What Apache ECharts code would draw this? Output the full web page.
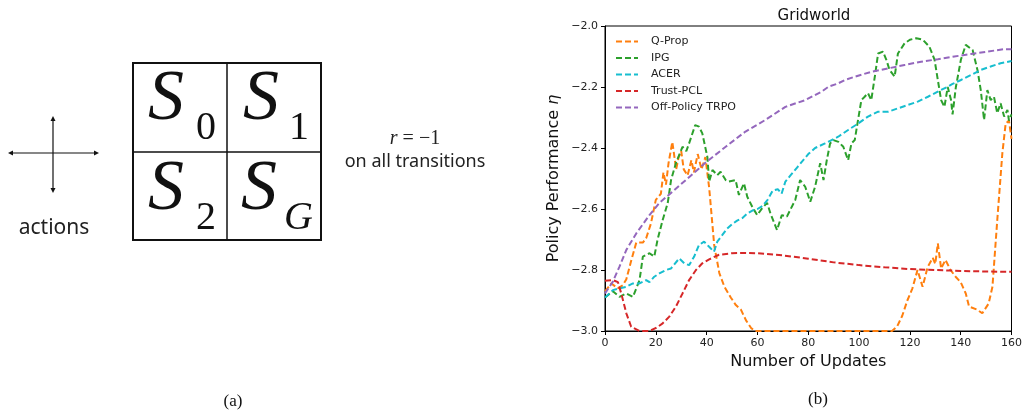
<!DOCTYPE html>
<html>
<head>
<meta charset="utf-8">
<script src="https://cdn.jsdelivr.net/npm/echarts@6/dist/echarts.min.js"></script>
<style>
  html, body { margin: 0; padding: 0; background: #fff; }
  #chart { width: 1025px; height: 415px; }
</style>
</head>
<body>
<div id="chart"></div>
<script>
// series names and colours (matplotlib tab10)
const seriesNames = ['Q-Prop', 'IPG', 'ACER', 'Trust-PCL', 'Off-Policy TRPO'];
const seriesColors = ['#ff7f0e', '#2ca02c', '#17becf', '#d62728', '#9467bd'];

// [update, performance]
const qprop = [[0,-2.87],[2.5,-2.844],[5,-2.86],[7,-2.85],[8.4,-2.83],[10.3,-2.77],[12.3,-2.71],[14.9,-2.71],[16.2,-2.696],[18.1,-2.647],[20,-2.57],[22,-2.55],[23,-2.48],[24,-2.52],[25,-2.45],[26.5,-2.38],[28,-2.47],[29,-2.43],[30,-2.41],[31,-2.47],[32.5,-2.49],[34,-2.44],[35,-2.48],[36.5,-2.42],[38,-2.47],[39.5,-2.43],[41,-2.53],[43,-2.72],[45,-2.81],[47,-2.855],[49.5,-2.89],[51.5,-2.915],[53.5,-2.93],[55.5,-2.965],[57.5,-2.99],[59,-3.0],[113,-3.0],[115,-2.985],[117,-2.95],[119,-2.9],[121,-2.86],[123,-2.8],[125,-2.855],[127,-2.79],[129,-2.76],[130,-2.78],[131,-2.713],[132.3,-2.795],[134,-2.767],[136,-2.8],[138,-2.822],[140,-2.84],[142,-2.877],[143.3,-2.92],[146.5,-2.93],[148.5,-2.942],[151,-2.91],[152.5,-2.855],[154.4,-2.636],[156.4,-2.417],[157.7,-2.32],[159,-2.31],[160,-2.37]];
const ipg = [[0,-2.89],[3.1,-2.87],[5.7,-2.888],[8.4,-2.877],[11,-2.888],[13.6,-2.833],[14.9,-2.756],[17.5,-2.745],[19.4,-2.756],[20.7,-2.7],[22.7,-2.636],[24.7,-2.58],[26,-2.505],[27.9,-2.45],[30.5,-2.396],[32,-2.41],[33.1,-2.385],[35.5,-2.325],[37,-2.33],[38.3,-2.352],[40.3,-2.43],[41,-2.51],[42.3,-2.472],[44.2,-2.489],[45.5,-2.478],[47.5,-2.505],[48.8,-2.51],[51.4,-2.505],[52.7,-2.554],[54.7,-2.516],[56,-2.56],[57.9,-2.592],[59.9,-2.62],[61.8,-2.598],[63.8,-2.58],[65.1,-2.614],[67.7,-2.669],[69.6,-2.62],[71.6,-2.625],[72.9,-2.603],[74.9,-2.57],[76.8,-2.505],[78.8,-2.527],[80.8,-2.576],[82.7,-2.527],[84.7,-2.45],[86,-2.505],[87.3,-2.44],[88.6,-2.385],[89.9,-2.374],[91.9,-2.38],[93.8,-2.396],[95.7,-2.44],[97,-2.385],[98.3,-2.374],[99.6,-2.308],[100.9,-2.243],[102.2,-2.232],[103.5,-2.22],[104.8,-2.243],[106.2,-2.166],[107.5,-2.09],[109.4,-2.084],[110.7,-2.11],[112,-2.144],[114,-2.166],[115.3,-2.09],[117.9,-2.057],[120,-2.045],[122.5,-2.04],[125.1,-2.045],[127.7,-2.068],[129.7,-2.11],[131,-2.177],[132.3,-2.243],[133.6,-2.265],[134.9,-2.2],[136.2,-2.243],[136.8,-2.29],[138.1,-2.2],[140.1,-2.11],[142,-2.062],[144.7,-2.079],[146.6,-2.144],[147.9,-2.21],[149.2,-2.308],[150.5,-2.21],[151.8,-2.243],[153.1,-2.232],[154.4,-2.286],[155.7,-2.253],[157.1,-2.297],[158.4,-2.275],[159,-2.31],[160,-2.29]];
const acer = [[0,-2.89],[3.1,-2.866],[5.7,-2.86],[8.4,-2.855],[11,-2.844],[13.6,-2.844],[16.2,-2.833],[17.5,-2.84],[19.4,-2.822],[21.4,-2.811],[24,-2.8],[26,-2.795],[29.2,-2.762],[31.2,-2.778],[33.1,-2.784],[35.1,-2.756],[37,-2.718],[39,-2.707],[41,-2.724],[42.9,-2.74],[44.2,-2.707],[46.2,-2.685],[48,-2.665],[50,-2.65],[52,-2.638],[54,-2.63],[56,-2.615],[58,-2.605],[60,-2.6],[62,-2.59],[64,-2.57],[66,-2.54],[68,-2.535],[69.5,-2.55],[71,-2.51],[73,-2.49],[76,-2.46],[80,-2.42],[82.7,-2.4],[86.6,-2.385],[89.2,-2.374],[91.8,-2.363],[95.7,-2.341],[99.6,-2.32],[103.5,-2.297],[107.5,-2.281],[111.4,-2.281],[115.3,-2.27],[119.2,-2.259],[123.1,-2.248],[127.1,-2.232],[131,-2.215],[134.9,-2.199],[136.8,-2.19],[140.1,-2.177],[144,-2.161],[147.9,-2.144],[151.8,-2.133],[155.7,-2.122],[160,-2.115]];
const trustPcl = [[0,-2.835],[3.1,-2.833],[5.1,-2.84],[6.4,-2.877],[8.4,-2.942],[10.3,-2.986],[13.6,-3.0],[17.5,-3.0],[20.1,-2.99],[22.7,-2.975],[25.3,-2.953],[27.9,-2.92],[30.5,-2.877],[33.1,-2.833],[35.8,-2.8],[38.3,-2.778],[41,-2.765],[44.9,-2.75],[50,-2.745],[55,-2.744],[60,-2.745],[70,-2.752],[80,-2.763],[90,-2.775],[100,-2.784],[110,-2.791],[120,-2.797],[130,-2.8],[140,-2.803],[150,-2.805],[160,-2.806]];
const offTrpo = [[0,-2.877],[3.1,-2.838],[5.7,-2.789],[8.4,-2.734],[12.3,-2.68],[17.5,-2.62],[21.4,-2.58],[26.6,-2.543],[31.8,-2.505],[37,-2.467],[40,-2.445],[47.5,-2.396],[55.3,-2.346],[63.1,-2.308],[71,-2.265],[78.8,-2.243],[85.3,-2.215],[88,-2.199],[91.8,-2.188],[94.4,-2.177],[98.4,-2.166],[104.9,-2.15],[111.4,-2.139],[117.9,-2.128],[124.4,-2.117],[131,-2.109],[137.5,-2.1],[144,-2.092],[150.5,-2.084],[157,-2.076],[160,-2.076]];
const seriesData = [qprop, ipg, acer, trustPcl, offTrpo];

// axes
const xMin = 0, xMax = 160, xStep = 20;
const yMin = -3.0, yMax = -2.0, yStep = 0.2;

const chart = echarts.init(document.getElementById('chart'));
const sans = 'DejaVu Sans';
const serif = 'Liberation Serif';

// panel (a): gridworld sketch
const ink = '#111';
const diagram = [
  { type: 'rect', shape: { x: 133, y: 63, width: 188, height: 177 }, style: { fill: 'none', stroke: ink, lineWidth: 2 } },
  { type: 'line', shape: { x1: 227, y1: 63, x2: 227, y2: 240 }, style: { stroke: ink, lineWidth: 1.5 } },
  { type: 'line', shape: { x1: 133, y1: 152, x2: 321, y2: 152 }, style: { stroke: ink, lineWidth: 1.5 } },
  // action arrows
  { type: 'line', shape: { x1: 10, y1: 153, x2: 97, y2: 153 }, style: { stroke: ink, lineWidth: 1.2 } },
  { type: 'line', shape: { x1: 53, y1: 118, x2: 53, y2: 191 }, style: { stroke: ink, lineWidth: 1.2 } },
  { type: 'polygon', shape: { points: [[8, 153], [13, 150.5], [13, 155.5]] }, style: { fill: ink } },
  { type: 'polygon', shape: { points: [[99, 153], [94, 150.5], [94, 155.5]] }, style: { fill: ink } },
  { type: 'polygon', shape: { points: [[53, 116], [50.5, 121], [55.5, 121]] }, style: { fill: ink } },
  { type: 'polygon', shape: { points: [[53, 193], [50.5, 188], [55.5, 188]] }, style: { fill: ink } },
  { type: 'text', x: 54, y: 228, style: { text: 'actions', font: '21px "Noto Sans"', fill: '#222', align: 'center', verticalAlign: 'middle' } },
  { type: 'text', x: 415, y: 139, style: { text: '{i|r} = −1', font: '20px ' + serif, fill: '#222', align: 'center', verticalAlign: 'middle',
      rich: { i: { fontStyle: 'italic', fontFamily: serif, fontSize: 20 } } } },
  { type: 'text', x: 415, y: 162, style: { text: 'on all transitions', font: '18px "Noto Sans"', fill: '#222', align: 'center', verticalAlign: 'middle' } },
  { type: 'text', x: 233, y: 402, style: { text: '(a)', font: '17px ' + serif, fill: '#111', align: 'center', verticalAlign: 'middle' } },
  { type: 'text', x: 818, y: 400, style: { text: '(b)', font: '17px ' + serif, fill: '#111', align: 'center', verticalAlign: 'middle' } }
];
const cells = [
  { x: 148, y: 100, sub: '0', subX: 196, subItalic: false },
  { x: 243, y: 100, sub: '1', subX: 289, subItalic: false },
  { x: 148, y: 190, sub: '2', subX: 196, subItalic: false },
  { x: 241, y: 190, sub: 'G', subX: 284, subItalic: true }
];
cells.forEach(c => {
  diagram.push({ type: 'text', x: c.x, y: c.y, style: { text: 'S', font: 'italic 72px ' + serif, fill: ink, align: 'left', verticalAlign: 'middle' } });
  diagram.push({ type: 'text', x: c.subX, y: c.y + 28, style: { text: c.sub, font: (c.subItalic ? 'italic ' : '') + '40px ' + serif, fill: ink, align: 'left', verticalAlign: 'middle' } });
});

const option = {
  animation: false,
  backgroundColor: '#fff',
  title: {
    text: 'Gridworld', left: 809, top: 4, textAlign: 'center',
    textStyle: { fontFamily: sans, fontSize: 15, fontWeight: 'normal', color: '#111' }
  },
  legend: {
    orient: 'vertical', left: 610, top: 31,
    itemWidth: 22, itemHeight: 12, itemGap: 5.5,
    itemStyle: { opacity: 0 },
    textStyle: { fontFamily: sans, fontSize: 11, color: '#222', padding: [0, 0, 0, 8] },
    data: seriesNames
  },
  grid: {
    left: 605, right: 11, top: 26, bottom: 84,
    show: true, borderColor: '#000', borderWidth: 1, backgroundColor: 'transparent'
  },
  xAxis: {
    type: 'value', min: xMin, max: xMax, interval: xStep,
    name: 'Number of Updates', nameLocation: 'middle', nameGap: 21,
    nameTextStyle: { fontFamily: sans, fontSize: 16, color: '#111' },
    axisLine: { show: true, lineStyle: { color: '#000', width: 1 } },
    axisTick: { show: true, inside: false, length: 4, lineStyle: { color: '#000' } },
    axisLabel: { fontFamily: sans, fontSize: 11, color: '#222', margin: 7 },
    splitLine: { show: false }
  },
  yAxis: {
    type: 'value', min: yMin, max: yMax, interval: yStep,
    name: 'Policy Performance {i|η}', nameLocation: 'middle', nameGap: 43, nameRotate: 90,
    nameTextStyle: { fontFamily: sans, fontSize: 16, color: '#111',
      rich: { i: { fontStyle: 'italic', fontFamily: sans, fontSize: 16, color: '#111' } } },
    axisLine: { show: true, lineStyle: { color: '#000', width: 1 } },
    axisTick: { show: true, inside: false, length: 4, lineStyle: { color: '#000' } },
    axisLabel: { fontFamily: sans, fontSize: 11, color: '#222', margin: 7,
      formatter: v => v.toFixed(1).replace('-', '−') },
    splitLine: { show: false }
  },
  graphic: diagram,
  series: seriesNames.map((name, i) => ({
    name: name,
    type: 'line',
    data: seriesData[i],
    symbol: 'none',
    showSymbol: false,
    clip: true,
    color: seriesColors[i],
    lineStyle: { color: seriesColors[i], width: 2, type: [6, 3] },
    itemStyle: { color: seriesColors[i] },
    z: 2 + i
  }))
};
chart.setOption(option);
</script>
</body>
</html>
